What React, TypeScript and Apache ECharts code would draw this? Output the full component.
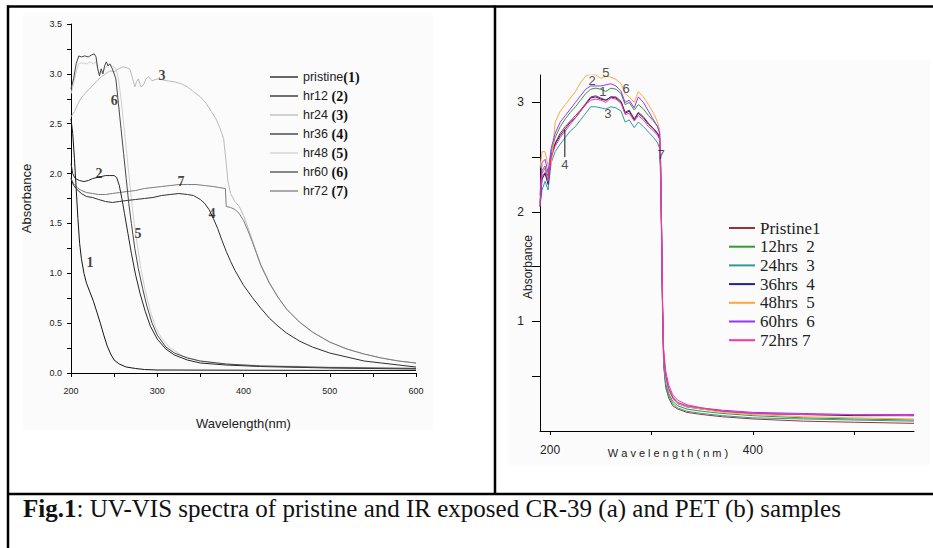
import React, { useEffect, useRef } from 'react';
import * as echarts from 'echarts';

// ---------- Panel (a): CR-39 ----------
const leftNames = ['pristine', 'hr12', 'hr24', 'hr36', 'hr48', 'hr60', 'hr72'];
const leftColors = ['#151515', '#262626', '#b9b9b9', '#303030', '#cfcfcf', '#474747', '#7c7c7c'];

const cr39Pristine = [[200,2.55],[202,2.4],[204,2.15],[206,1.85],[208,1.55],[210,1.3],[212,1.15],[215,1.0],[218,0.9],[222,0.81],[226,0.72],[230,0.61],[234,0.5],[238,0.38],[242,0.27],[246,0.19],[250,0.13],[256,0.09],[264,0.06],[275,0.045],[285,0.035],[300,0.03],[400,0.028],[500,0.026],[600,0.025]];
const cr39Hr12 = [[200,2.1],[202,2.0],[205,1.95],[210,1.93],[215,1.92],[220,1.93],[225,1.95],[230,1.96],[235,1.97],[240,1.98],[245,1.98],[250,1.98],[253,1.96],[256,1.88],[259,1.75],[262,1.6],[266,1.4],[270,1.2],[275,0.98],[280,0.8],[286,0.62],[292,0.47],[300,0.34],[310,0.24],[320,0.18],[335,0.13],[350,0.1],[380,0.08],[420,0.065],[500,0.05],[600,0.04]];
const cr39Hr24 = [[200,2.57],[204,2.62],[208,2.7],[212,2.76],[216,2.8],[220,2.84],[225,2.88],[230,2.93],[235,2.97],[240,3.0],[245,3.03],[250,3.02],[255,3.05],[260,3.07],[265,3.06],[268,3.05],[271,2.97],[274,2.87],[276,2.92],[278,2.95],[281,2.87],[284,2.89],[287,2.95],[290,2.97],[294,2.93],[300,2.95],[306,2.94],[312,2.93],[320,2.92],[328,2.9],[335,2.87],[342,2.82],[350,2.77],[357,2.7],[363,2.62],[368,2.55],[373,2.45],[377,2.35],[380,2.1],[382,1.92],[385,1.8],[390,1.72],[395,1.67],[400,1.58],[405,1.46],[410,1.34],[415,1.21],[420,1.09],[430,0.91],[440,0.76],[450,0.64],[465,0.51],[480,0.41],[500,0.31],[520,0.24],[540,0.19],[560,0.15],[580,0.12],[600,0.1]];
const cr39Hr36 = [[200,1.95],[203,1.88],[207,1.84],[212,1.8],[218,1.77],[225,1.76],[232,1.74],[240,1.72],[248,1.71],[256,1.72],[265,1.73],[275,1.74],[285,1.75],[295,1.76],[305,1.78],[315,1.79],[325,1.8],[335,1.79],[342,1.78],[350,1.74],[355,1.7],[360,1.64],[365,1.55],[370,1.45],[375,1.33],[380,1.22],[385,1.12],[390,1.03],[400,0.88],[410,0.76],[420,0.65],[430,0.55],[440,0.47],[450,0.4],[465,0.32],[480,0.26],[500,0.2],[520,0.16],[540,0.12],[560,0.1],[580,0.08],[600,0.06]];
const cr39Hr48 = [[200,2.8],[203,2.9],[206,3.02],[209,3.1],[213,3.11],[218,3.1],[222,3.12],[226,3.1],[229,3.12],[231,3.05],[233,3.0],[236,3.02],[240,3.06],[244,3.1],[248,3.08],[252,3.05],[255,2.95],[258,2.75],[261,2.5],[264,2.25],[267,2.0],[270,1.75],[273,1.52],[277,1.28],[281,1.05],[286,0.83],[292,0.62],[298,0.46],[305,0.35],[315,0.25],[330,0.17],[350,0.12],[380,0.09],[420,0.075],[500,0.06],[600,0.05]];
const cr39Hr60 = [[200,2.85],[203,2.95],[206,3.1],[209,3.18],[212,3.17],[216,3.18],[220,3.17],[224,3.19],[227,3.2],[229,3.17],[231,3.05],[233,2.98],[235,3.05],[237,3.0],[239,3.08],[241,3.12],[243,3.08],[245,3.1],[248,3.05],[252,2.95],[255,2.7],[258,2.45],[261,2.2],[264,1.95],[267,1.7],[270,1.5],[274,1.25],[278,1.05],[283,0.85],[288,0.67],[294,0.5],[300,0.38],[310,0.26],[320,0.2],[335,0.15],[350,0.12],[380,0.09],[420,0.07],[500,0.055],[600,0.045]];
const cr39Hr72 = [[200,1.95],[203,1.9],[207,1.86],[212,1.83],[218,1.81],[225,1.8],[232,1.79],[240,1.79],[248,1.8],[256,1.81],[265,1.82],[275,1.83],[285,1.85],[295,1.86],[305,1.87],[315,1.88],[325,1.89],[335,1.89],[345,1.89],[355,1.88],[365,1.87],[372,1.86],[379,1.85],[380,1.67],[385,1.66],[390,1.64],[395,1.6],[400,1.53],[405,1.43],[410,1.32],[415,1.2],[420,1.08],[430,0.9],[440,0.76],[450,0.64],[465,0.51],[480,0.41],[500,0.31],[520,0.24],[540,0.19],[560,0.15],[580,0.12],[600,0.1]];
const leftData = [cr39Pristine, cr39Hr12, cr39Hr24, cr39Hr36, cr39Hr48, cr39Hr60, cr39Hr72];

const leftXTicks = [200, 300, 400, 500, 600];
const leftLabelText = ['1', '2', '3', '4', '5', '6', '7'];
const leftLabelX = [222, 232.5, 305.5, 363.5, 277.7, 250, 327.5];
const leftLabelY = [1.11, 2.0, 2.98, 1.6, 1.4, 2.73, 1.92];

// ---------- Panel (b): PET ----------
const rightNames = ['Pristine1', '12hrs  2', '24hrs  3', '36hrs  4', '48hrs  5', '60hrs  6', '72hrs 7'];
const rightColors = ['#993333', '#339933', '#339999', '#1f1f99', '#ffa640', '#9933ff', '#ff3399'];

const rightX = [190,192,195,198,201,205,210,215,220,225,230,235,240,245,250,255,260,265,270,274,278,283,287,292,297,302,306,308,309,310,311,312,314,317,321,326,335,350,370,400,450,500,559];
const petPristine = [2.08,2.32,2.36,2.28,2.52,2.63,2.72,2.78,2.83,2.88,2.93,2.99,3.05,3.06,3.04,3.02,3.05,3.05,3.01,2.91,2.93,2.85,2.91,2.87,2.81,2.76,2.71,2.67,2.38,1.75,1.05,0.6,0.4,0.3,0.23,0.2,0.17,0.15,0.13,0.11,0.09,0.08,0.07];
const petHr12 = [2.1,2.38,2.42,2.32,2.55,2.68,2.78,2.85,2.91,2.96,3.02,3.08,3.12,3.13,3.12,3.1,3.13,3.12,3.08,2.98,3.0,2.93,2.98,2.94,2.88,2.83,2.78,2.73,2.45,1.8,1.08,0.65,0.44,0.34,0.27,0.23,0.2,0.18,0.16,0.14,0.12,0.11,0.1];
const petHr24 = [2.05,2.2,2.28,2.2,2.45,2.55,2.62,2.68,2.74,2.78,2.84,2.9,2.96,2.96,2.95,2.94,2.96,2.95,2.92,2.82,2.84,2.77,2.82,2.78,2.73,2.68,2.63,2.58,2.3,1.7,1.0,0.62,0.42,0.32,0.25,0.21,0.18,0.16,0.14,0.12,0.11,0.1,0.09];
const petHr36 = [2.05,2.3,2.35,2.25,2.5,2.62,2.7,2.76,2.82,2.86,2.92,2.98,3.04,3.05,3.03,3.02,3.05,3.04,3.0,2.9,2.92,2.84,2.9,2.86,2.8,2.76,2.72,2.68,2.4,1.8,1.1,0.7,0.5,0.38,0.3,0.25,0.22,0.2,0.18,0.16,0.15,0.14,0.14];
const petHr48 = [2.4,2.55,2.55,2.42,2.42,2.82,2.92,2.98,3.04,3.1,3.18,3.24,3.26,3.25,3.22,3.24,3.23,3.21,3.17,3.08,3.05,3.0,3.1,3.05,2.98,2.9,2.82,2.75,2.45,1.8,1.1,0.68,0.47,0.37,0.29,0.25,0.22,0.2,0.17,0.15,0.13,0.12,0.11];
const petHr60 = [2.15,2.45,2.48,2.36,2.58,2.72,2.82,2.88,2.94,3.0,3.06,3.12,3.15,3.15,3.15,3.16,3.17,3.15,3.1,3.0,3.02,2.95,3.05,3.0,2.92,2.84,2.78,2.72,2.45,1.82,1.1,0.7,0.5,0.39,0.31,0.26,0.23,0.21,0.19,0.17,0.16,0.15,0.15];
const petHr72 = [2.05,2.35,2.4,2.28,2.5,2.6,2.68,2.74,2.8,2.86,2.92,2.98,3.02,3.03,3.02,3.0,3.04,3.03,2.99,2.89,2.9,2.83,2.88,2.84,2.78,2.74,2.7,2.66,2.4,1.85,1.15,0.75,0.55,0.42,0.33,0.28,0.24,0.21,0.18,0.16,0.15,0.15,0.14];
const rightData = [petPristine, petHr12, petHr24, petHr36, petHr48, petHr60, petHr72];

const rightXTicks = [200, 300, 400, 500];
const rightXLabels = [200, 400];
const rightYTicks = [0.5, 1, 1.5, 2, 2.5, 3];
const rightYLabels = [1, 2, 3];
const rightLabelText = ['5', '2', '1', '6', '3', '4', '7'];
const rightLabelX = [255, 241.5, 252, 275, 257, 214.5, 309.6];
const rightLabelY = [3.27, 3.2, 3.1, 3.13, 2.9, 2.43, 2.52];
const leaderX = [214.5, 214.5];
const leaderY = [2.75, 2.5];

const caption = ': UV-VIS spectra of pristine and IR exposed CR-39 (a) and PET (b) samples';

export default function App() {
  const ref = useRef<HTMLDivElement>(null);
  useEffect(() => {
    if (!ref.current) return;
    const chart = echarts.init(ref.current, null, { renderer: 'svg' });
    const sans = "'Liberation Sans', Arial, sans-serif";
    const serif = "'Liberation Serif', 'Times New Roman', serif";

    const leftSeries = leftNames.map((n, i) => ({
      type: 'line', name: n, xAxisIndex: 0, yAxisIndex: 0, data: leftData[i],
      symbol: 'none', lineStyle: { color: leftColors[i], width: 1 }, itemStyle: { color: leftColors[i] },
      silent: true, z: 3 + (i === 0 || i === 1 || i === 3 || i === 5 ? 1 : 0),
    }));
    const rightSeries = rightNames.map((n, i) => ({
      type: 'line', name: n, xAxisIndex: 1, yAxisIndex: 1,
      data: rightX.map((x, j) => [x, rightData[i][j]]),
      symbol: 'none', lineStyle: { color: rightColors[i], width: 1 }, itemStyle: { color: rightColors[i] },
      silent: true,
    }));

    const option: any = {
      animation: false,
      backgroundColor: '#ffffff',
      grid: [
        { left: 71, top: 24, width: 345, height: 349 },
        { left: 540, top: 75, width: 374, height: 356 },
      ],
      xAxis: [
        {
          type: 'value', gridIndex: 0, min: 200, max: 600, interval: 100,
          axisLine: { lineStyle: { color: '#000', width: 1 } },
          axisTick: { length: 4, lineStyle: { color: '#000' }, customValues: leftXTicks },
          minorTick: { show: true, splitNumber: 2, length: 4, lineStyle: { color: '#000' } },
          axisLabel: { fontSize: 9, color: '#222', fontFamily: sans, margin: 13 },
          splitLine: { show: false },
          name: 'Wavelength(nm)', nameLocation: 'middle', nameGap: 44,
          nameTextStyle: { fontSize: 13, fontFamily: sans, color: '#222' },
        },
        {
          type: 'value', gridIndex: 1, min: 190, max: 559,
          axisLine: { lineStyle: { color: '#000', width: 1 } },
          axisTick: { length: 4, lineStyle: { color: '#000' }, customValues: rightXTicks },
          axisLabel: { fontSize: 12, color: '#222', fontFamily: sans, margin: 13, customValues: rightXLabels },
          splitLine: { show: false },
        },
      ],
      yAxis: [
        {
          type: 'value', gridIndex: 0, min: 0, max: 3.5, interval: 0.5,
          axisLine: { show: true, lineStyle: { color: '#000', width: 1 } },
          axisTick: { show: true, length: 4, lineStyle: { color: '#000' } },
          minorTick: { show: true, splitNumber: 2, length: 4, lineStyle: { color: '#000' } },
          axisLabel: { fontSize: 9, color: '#222', fontFamily: sans, margin: 9, formatter: (v: number) => v.toFixed(1) },
          splitLine: { show: false },
          name: 'Absorbance', nameLocation: 'middle', nameGap: 38,
          nameTextStyle: { fontSize: 13, fontFamily: sans, color: '#222' },
        },
        {
          type: 'value', gridIndex: 1, min: 0, max: 3.25,
          axisLine: { show: true, lineStyle: { color: '#000', width: 1 } },
          axisTick: { show: true, length: 8, lineStyle: { color: '#000' }, customValues: rightYTicks },
          axisLabel: { fontSize: 12, color: '#222', fontFamily: sans, margin: 16, customValues: rightYLabels },
          splitLine: { show: false },
        },
      ],
      legend: [
        {
          data: leftNames, orient: 'vertical', left: 270, top: 70, padding: 0,
          icon: 'rect', itemWidth: 28, itemHeight: 1.3, itemGap: 5, selectedMode: false,
          formatter: (name: string) => {
            const i = leftNames.indexOf(name);
            return `{a|${name}${i === 0 ? '' : ' '}}{b|(${i + 1})}`;
          },
          textStyle: {
            color: '#222',
            rich: {
              a: { fontFamily: sans, fontSize: 12.5, lineHeight: 12, color: '#222' },
              b: { fontFamily: serif, fontWeight: 'bold', fontSize: 14, lineHeight: 12, color: '#111' },
            },
          },
        },
        {
          data: rightNames, orient: 'vertical', left: 729, top: 219.5, padding: 0,
          icon: 'rect', itemWidth: 26, itemHeight: 2, itemGap: 1.7, selectedMode: false,
          textStyle: { fontFamily: serif, fontSize: 17, lineHeight: 16, color: '#222' },
        },
      ],
      series: [
        ...leftSeries,
        ...rightSeries,
        {
          type: 'scatter', xAxisIndex: 0, yAxisIndex: 0, symbolSize: 1, clip: false, silent: true,
          itemStyle: { color: 'rgba(0,0,0,0)' },
          data: leftLabelText.map((t, i) => ({ name: t, value: [leftLabelX[i], leftLabelY[i]] })),
          label: { show: true, position: 'inside', formatter: '{b}', fontFamily: serif, fontWeight: 'bold', fontSize: 14, color: '#111' },
          z: 10,
        },
        {
          type: 'scatter', xAxisIndex: 1, yAxisIndex: 1, symbolSize: 1, clip: false, silent: true,
          itemStyle: { color: 'rgba(0,0,0,0)' },
          data: rightLabelText.map((t, i) => ({ name: t, value: [rightLabelX[i], rightLabelY[i]] })),
          label: { show: true, position: 'inside', formatter: '{b}', fontFamily: sans, fontSize: 13, color: '#222' },
          z: 10,
        },
        {
          type: 'line', xAxisIndex: 1, yAxisIndex: 1, symbol: 'none', silent: true,
          data: leaderX.map((x, i) => [x, leaderY[i]]),
          lineStyle: { color: '#111', width: 1 }, z: 10,
        },
      ],
      graphic: [
        { type: 'rect', z: -10, shape: { x: 23, y: 13, width: 410, height: 417 }, style: { fill: '#fbfbfb' } },
        { type: 'rect', z: -10, shape: { x: 508, y: 60, width: 422, height: 405 }, style: { fill: '#fbfbfb' } },
        { type: 'line', z: 50, shape: { x1: 7, y1: 6.5, x2: 933, y2: 6.5 }, style: { stroke: '#000', lineWidth: 2.5 } },
        { type: 'line', z: 50, shape: { x1: 8, y1: 5.5, x2: 8, y2: 548 }, style: { stroke: '#000', lineWidth: 2.5 } },
        { type: 'line', z: 50, shape: { x1: 495, y1: 5.5, x2: 495, y2: 494 }, style: { stroke: '#000', lineWidth: 2.5 } },
        { type: 'line', z: 50, shape: { x1: 7, y1: 494, x2: 933, y2: 494 }, style: { stroke: '#000', lineWidth: 2.5 } },
        {
          type: 'text', z: 50, x: 668, y: 453,
          style: { text: 'W a v e l e n g t h ( n m )', fontFamily: sans, fontSize: 11, fill: '#222', align: 'center', verticalAlign: 'middle' },
        },
        {
          type: 'text', z: 50, x: 528, y: 267, rotation: Math.PI / 2,
          style: { text: 'Absorbance', fontFamily: sans, fontSize: 12, fill: '#222', align: 'center', verticalAlign: 'middle' },
        },
        {
          type: 'text', z: 50, x: 23, y: 508,
          style: {
            text: '{b|Fig.1}' + caption, fontFamily: serif, fontSize: 25, fill: '#111', verticalAlign: 'middle',
            rich: { b: { fontFamily: serif, fontSize: 25, fontWeight: 'bold', fill: '#111' } },
          },
        },
      ],
    };
    chart.setOption(option);
    return () => chart.dispose();
  }, []);
  return (
    <div
      ref={ref}
      style={{ position: 'fixed', left: 0, top: 0, width: 933, height: 548, background: '#fff' }}
    />
  );
}
